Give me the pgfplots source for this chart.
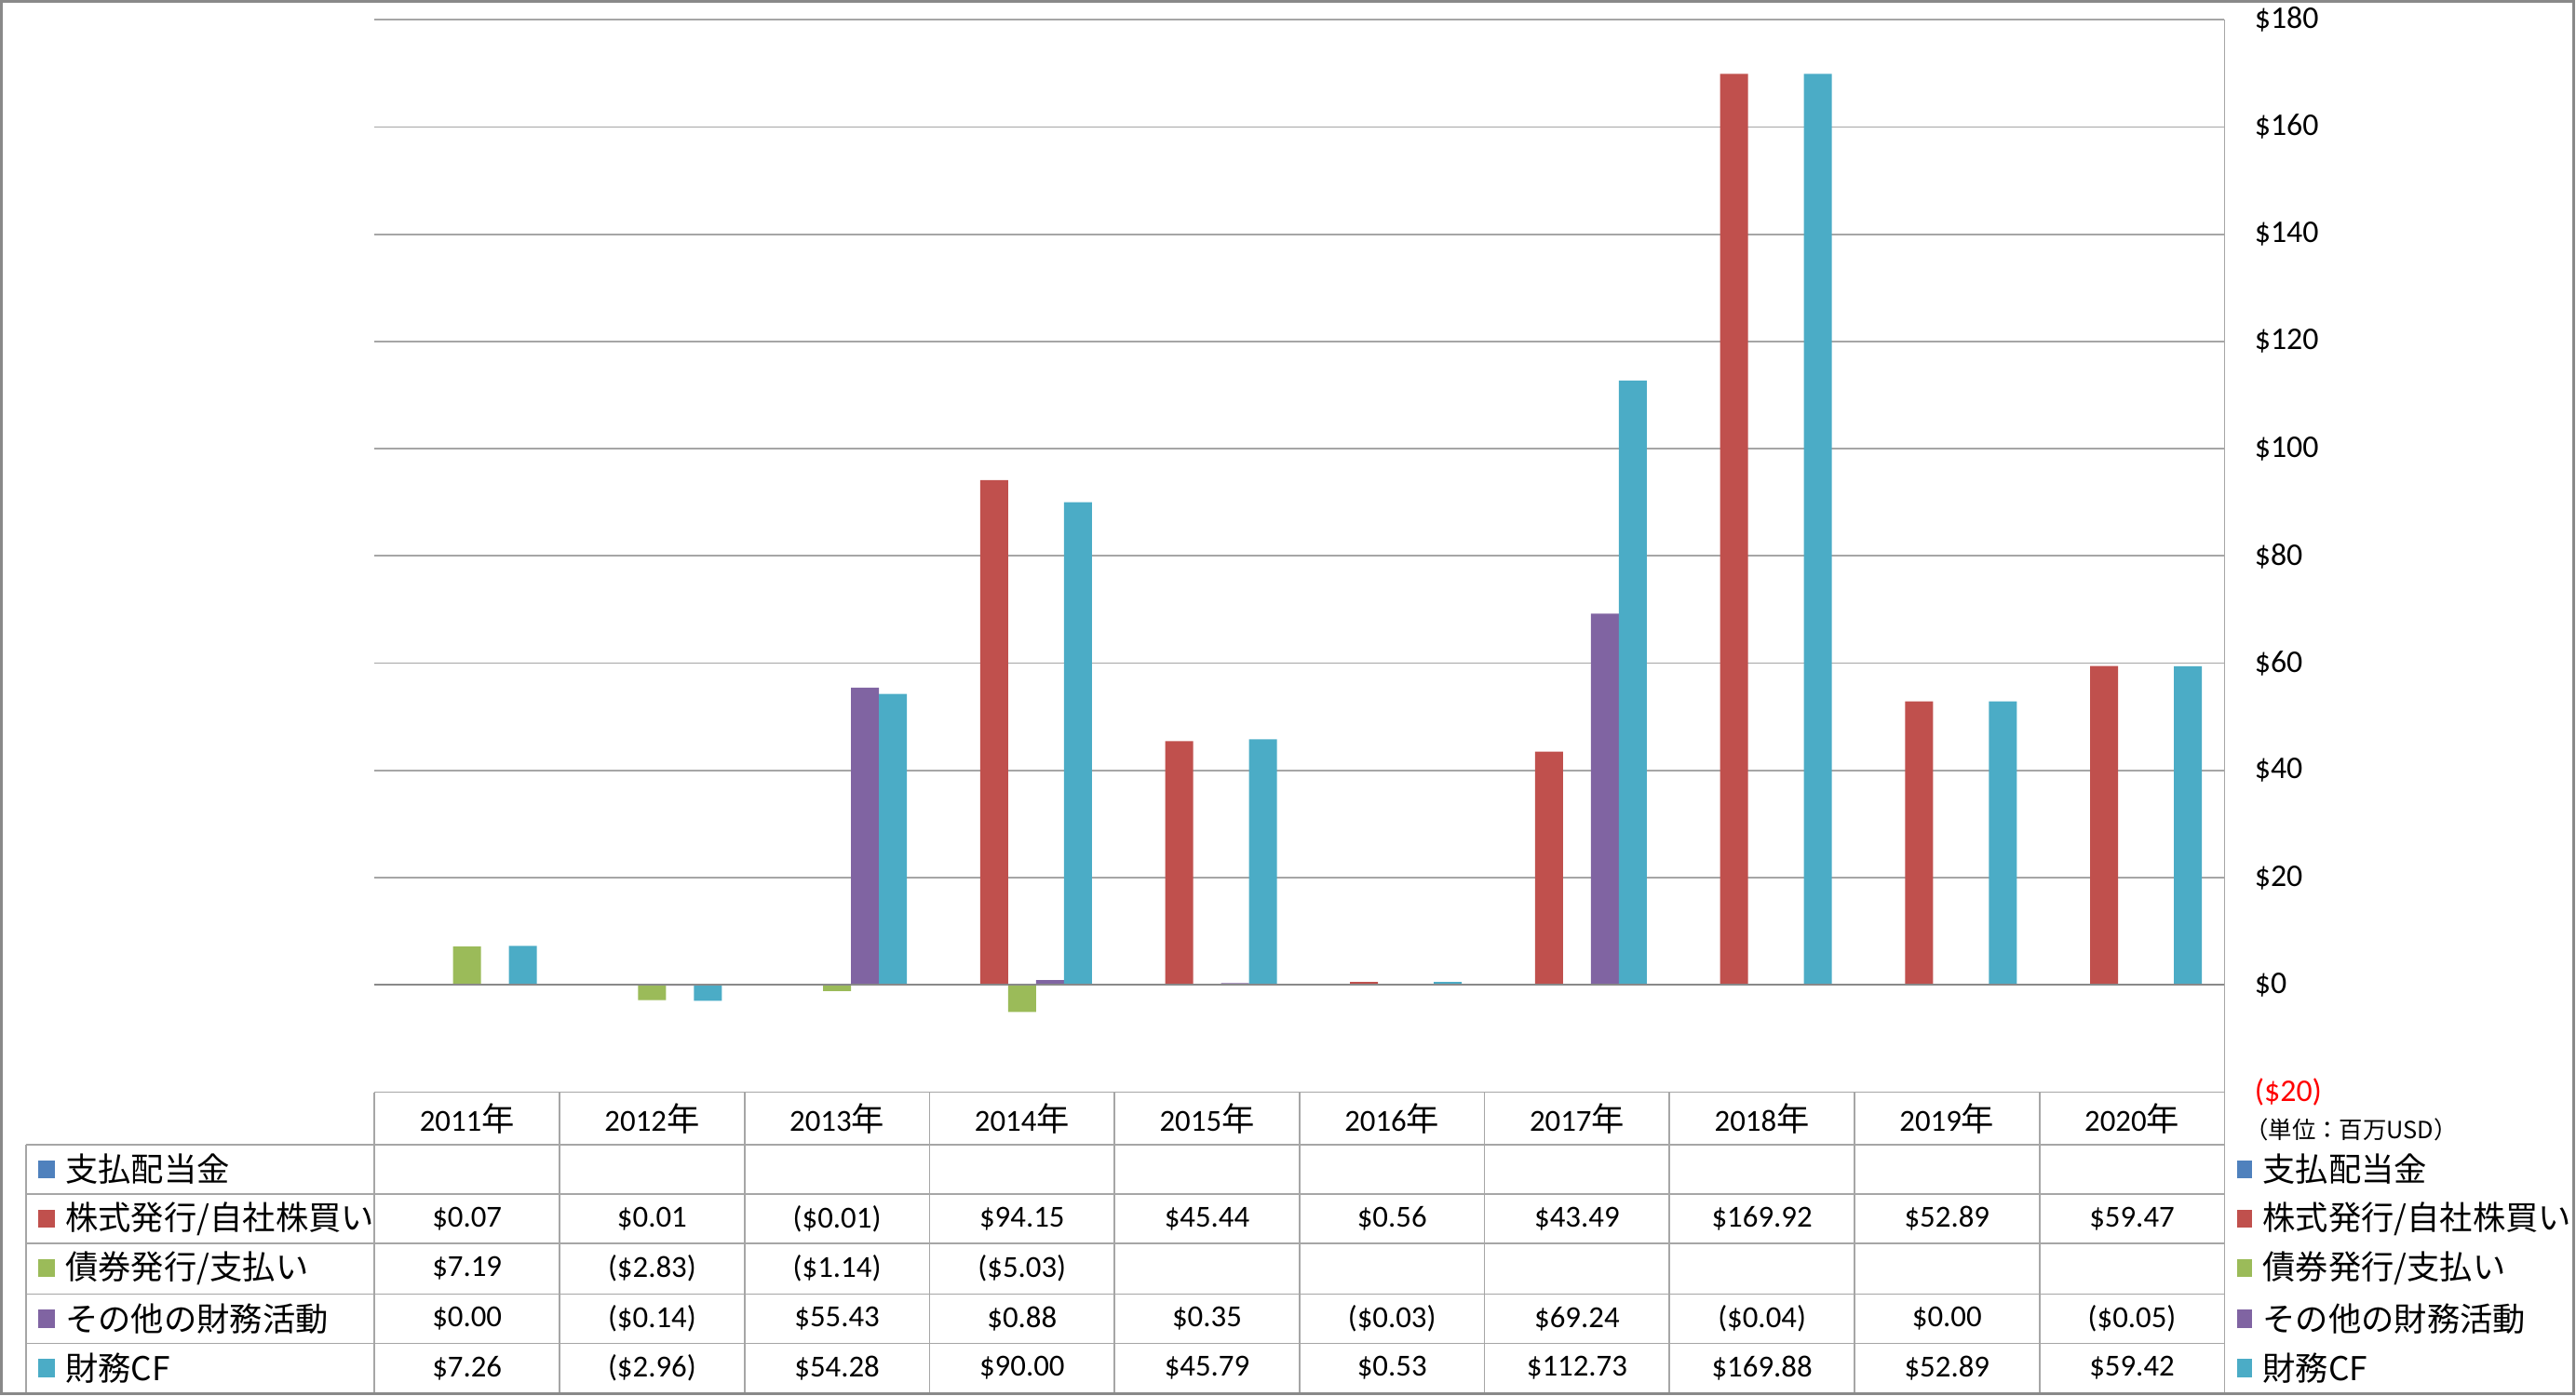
\documentclass[border=0pt]{standalone}
\usepackage{fontspec}
\setmainfont{Carlito}
\newfontfamily\jp{Noto Sans CJK JP}
\usepackage{pgfplots}
\pgfplotsset{compat=1.18}
\definecolor{cBlue}{HTML}{4F81BD}
\definecolor{cRed}{HTML}{C0504D}
\definecolor{cGreen}{HTML}{9BBB59}
\definecolor{cPurple}{HTML}{8064A2}
\definecolor{cCyan}{HTML}{4BACC6}
\definecolor{gridc}{HTML}{A6A6A6}
\definecolor{framec}{HTML}{898989}
\newcommand{\J}[1]{{\jp\fontsize{10}{11}\selectfont #1}}
\begin{document}
\begin{tikzpicture}[font=\fontsize{9.3}{10}\selectfont]
\begin{scope}[x=0.5pt,y=-0.5pt]
\useasboundingbox (0,0) rectangle (1568,850);
\end{scope}
\begin{axis}[
  at={(114pt,-332.5pt)}, anchor=south west,
  scale only axis, width=563pt, height=326.5pt,
  xmin=-0.5, xmax=9.5, ymin=-20, ymax=180,
  axis x line=none,
  axis y line*=right,
  axis line style={draw=gridc, line width=0.5pt, -},
  xtick=\empty,
  ytick={-20,0,20,40,60,80,100,120,140,160,180},
  yticklabels={\textcolor{red}{(\$20)},\$0,\$20,\$40,\$60,\$80,\$100,\$120,\$140,\$160,\$180},
  yticklabel style={anchor=west, inner sep=0pt, xshift=9pt, font=\fontsize{9.6}{10}\selectfont},
  major tick length=0pt,
  ymajorgrids, grid style={draw=gridc, line width=0.5pt},
  clip=false,
]
\addplot[ybar, bar width=0.151, bar shift=-0.151, fill=cRed, draw=none] coordinates {
(0,0.07) (1,0.01) (2,-0.01) (3,94.15) (4,45.44) (5,0.56) (6,43.49) (7,169.92) (8,52.89) (9,59.47)};
\addplot[ybar, bar width=0.151, bar shift=0, fill=cGreen, draw=none] coordinates {
(0,7.19) (1,-2.83) (2,-1.14) (3,-5.03)};
\addplot[ybar, bar width=0.151, bar shift=0.151, fill=cPurple, draw=none] coordinates {
(0,0.00) (1,-0.14) (2,55.43) (3,0.88) (4,0.35) (5,-0.03) (6,69.24) (7,-0.04) (8,0.00) (9,-0.05)};
\addplot[ybar, bar width=0.151, bar shift=0.302, fill=cCyan, draw=none] coordinates {
(0,7.26) (1,-2.96) (2,54.28) (3,90.00) (4,45.79) (5,0.53) (6,112.73) (7,169.88) (8,52.89) (9,59.42)};
\draw[framec, line width=0.6pt] (axis cs:-0.5,0) -- (axis cs:9.5,0);
\end{axis}
\begin{scope}[x=0.5pt,y=-0.5pt]
% table grid
\draw[gridc, line width=0.5pt] (228,665) -- (1354,665);
\foreach \yy in {697,727,757,788,818} { \draw[gridc, line width=0.5pt] (16,\yy) -- (1354,\yy); }
\draw[gridc, line width=0.5pt] (16,697) -- (16,848);
\foreach \i in {0,...,10} { \draw[gridc, line width=0.5pt] ({228+112.6*\i},665) -- ({228+112.6*\i},848); }
% header
\foreach \yr [count=\i from 0] in {2011,2012,2013,2014,2015,2016,2017,2018,2019,2020} {
  \node[inner sep=0pt] at ({284.3+112.6*\i},681) {\yr\J{年}};
}
% rows
\foreach \v [count=\i from 0] in {\$0.07,\$0.01,(\$0.01),\$94.15,\$45.44,\$0.56,\$43.49,\$169.92,\$52.89,\$59.47} {
  \node[inner sep=0pt] at ({284.3+112.6*\i},742) {\v};
}
\foreach \v [count=\i from 0] in {\$7.19,(\$2.83),(\$1.14),(\$5.03)} {
  \node[inner sep=0pt] at ({284.3+112.6*\i},772) {\v};
}
\foreach \v [count=\i from 0] in {\$0.00,(\$0.14),\$55.43,\$0.88,\$0.35,(\$0.03),\$69.24,(\$0.04),\$0.00,(\$0.05)} {
  \node[inner sep=0pt] at ({284.3+112.6*\i},803) {\v};
}
\foreach \v [count=\i from 0] in {\$7.26,(\$2.96),\$54.28,\$90.00,\$45.79,\$0.53,\$112.73,\$169.88,\$52.89,\$59.42} {
  \node[inner sep=0pt] at ({284.3+112.6*\i},833) {\v};
}
% left legend
\foreach \c/\t/\yy in {cBlue/{\J{支払配当金}}/712, cRed/{\J{株式発行/自社株買い}}/742, cGreen/{\J{債券発行/支払い}}/772, cPurple/{\J{その他の財務活動}}/803, cCyan/{\J{財務CF}}/833} {
  \fill[\c] (23,{\yy-5.5}) rectangle (33.5,{\yy+5.5});
  \node[anchor=west, inner sep=0pt] at (39.5,\yy) {\t};
}
% right legend
\foreach \c/\t/\yy in {cBlue/{\J{支払配当金}}/712, cRed/{\J{株式発行/自社株買い}}/742, cGreen/{\J{債券発行/支払い}}/772, cPurple/{\J{その他の財務活動}}/803, cCyan/{\J{財務CF}}/833} {
  \fill[\c] (1361.5,{\yy-5.5}) rectangle (1371,{\yy+5.5});
  \node[anchor=west, inner sep=0pt] at (1377,\yy) {\t};
}
\node[anchor=west, inner sep=0pt, font=\fontsize{7.2}{8}\selectfont] at (1366,688) {\jp （単位：百万USD）};
% frame
\draw[framec, line width=0.9pt] (1,1) rectangle (1566.5,848.5);
\end{scope}
\end{tikzpicture}
\end{document}
